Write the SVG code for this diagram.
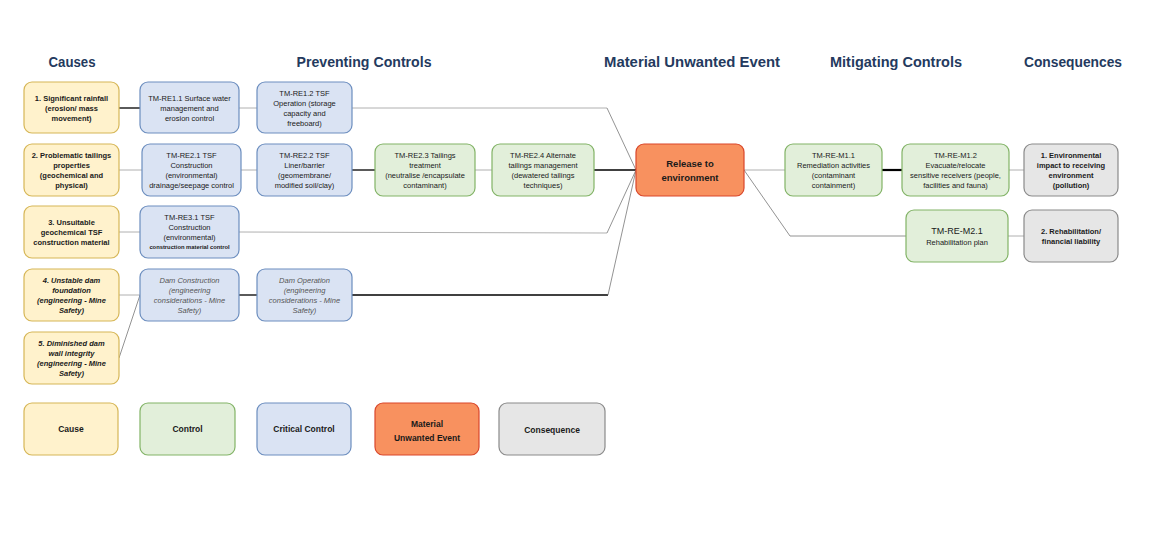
<svg xmlns="http://www.w3.org/2000/svg" width="1164" height="560" viewBox="0 0 1164 560">
<style>
.hdr{font-family:"Liberation Sans",Arial,sans-serif;font-weight:bold;font-size:14px;fill:#243a5e}
.t{font-family:"Liberation Sans",Arial,sans-serif;font-size:7.5px;fill:#1a1a1a;text-anchor:middle}
.b{font-weight:bold}
.i{font-style:italic}
.g{fill:#555}
.cause{fill:#fff2cc;stroke:#d6b656;stroke-width:1.2}
.ctrl{fill:#e2efda;stroke:#82b366;stroke-width:1.2}
.crit{fill:#dae3f3;stroke:#6c8ebf;stroke-width:1.2}
.mue{fill:#f8915f;stroke:#d9472b;stroke-width:1.2}
.cons{fill:#e6e6e6;stroke:#8a8a8a;stroke-width:1.2}
.k{stroke:#000;stroke-width:1.3;fill:none}
.gr{stroke:#b0b0b0;stroke-width:1;fill:none}
.d{stroke:#777;stroke-width:0.8;fill:none}
</style>
<rect width="1164" height="560" fill="#fff"/>
<g id="headers">
<text class="hdr" x="72" y="67" text-anchor="middle" textLength="47" lengthAdjust="spacingAndGlyphs">Causes</text>
<text class="hdr" x="364" y="67" text-anchor="middle" textLength="135" lengthAdjust="spacingAndGlyphs">Preventing Controls</text>
<text class="hdr" x="692" y="67" text-anchor="middle" textLength="176" lengthAdjust="spacingAndGlyphs">Material Unwanted Event</text>
<text class="hdr" x="896" y="67" text-anchor="middle" textLength="132" lengthAdjust="spacingAndGlyphs">Mitigating Controls</text>
<text class="hdr" x="1073" y="67" text-anchor="middle" textLength="98" lengthAdjust="spacingAndGlyphs">Consequences</text>
</g>
<g id="connectors">
<line class="k" x1="119" y1="108" x2="140" y2="108"/>
<line class="gr" x1="239" y1="108" x2="257" y2="108"/>
<polyline class="gr" points="352,108 607,108"/>
<line class="d" x1="607" y1="108" x2="636" y2="170"/>
<line class="gr" x1="119" y1="170" x2="142" y2="170"/>
<line class="gr" x1="241" y1="170" x2="257" y2="170"/>
<line class="k" x1="352" y1="170" x2="375" y2="170"/>
<line class="gr" x1="475" y1="170" x2="492" y2="170"/>
<line class="k" x1="594" y1="170" x2="636" y2="170"/>
<line class="gr" x1="119" y1="232" x2="140" y2="232"/>
<line class="gr" x1="239" y1="232" x2="607" y2="233"/>
<line class="d" x1="607" y1="233" x2="636" y2="170"/>
<line class="gr" x1="119" y1="295" x2="140" y2="295"/>
<line class="d" x1="119" y1="358" x2="140" y2="295"/>
<line class="k" x1="239" y1="295" x2="257" y2="295"/>
<line class="k" x1="352" y1="295" x2="608" y2="295"/>
<line class="d" x1="608" y1="295" x2="636" y2="170"/>
<line class="gr" x1="744" y1="170" x2="785" y2="170"/>
<line class="k" x1="882" y1="170" x2="902" y2="170" style="stroke-width:2.2"/>
<line class="gr" x1="1009" y1="170" x2="1024" y2="170"/>
<polyline class="d" points="744,170 790,236 906,236"/>
<line class="gr" x1="1008" y1="236" x2="1024" y2="236"/>
</g>
<g id="cause1"><rect class="cause" x="24" y="82" width="95" height="51" rx="8"/>
<text class="t b"><tspan x="71.5" y="100.5">1. Significant rainfall</tspan><tspan x="71.5" y="110.5">(erosion/ mass</tspan><tspan x="71.5" y="120.5">movement)</tspan></text></g>
<g id="cause2"><rect class="cause" x="24" y="144" width="95" height="52" rx="8"/>
<text class="t b"><tspan x="71.5" y="157.5">2. Problematic tailings</tspan><tspan x="71.5" y="167.5">properties</tspan><tspan x="71.5" y="177.5">(geochemical and</tspan><tspan x="71.5" y="187.5">physical)</tspan></text></g>
<g id="cause3"><rect class="cause" x="24" y="206" width="95" height="52" rx="8"/>
<text class="t b"><tspan x="71.5" y="224.5">3. Unsuitable</tspan><tspan x="71.5" y="234.5">geochemical TSF</tspan><tspan x="71.5" y="244.5">construction material</tspan></text></g>
<g id="cause4"><rect class="cause" x="24" y="269" width="95" height="52" rx="8"/>
<text class="t b i"><tspan x="71.5" y="282.5">4. Unstable dam</tspan><tspan x="71.5" y="292.5">foundation</tspan><tspan x="71.5" y="302.5">(engineering - Mine</tspan><tspan x="71.5" y="312.5">Safety)</tspan></text></g>
<g id="cause5"><rect class="cause" x="24" y="332" width="95" height="52" rx="8"/>
<text class="t b i"><tspan x="71.5" y="345.5">5. Diminished dam</tspan><tspan x="71.5" y="355.5">wall integrity</tspan><tspan x="71.5" y="365.5">(engineering - Mine</tspan><tspan x="71.5" y="375.5">Safety)</tspan></text></g>
<g id="re11"><rect class="crit" x="140" y="82" width="99" height="51" rx="8"/>
<text class="t"><tspan x="189.5" y="100.5">TM-RE1.1 Surface water</tspan><tspan x="189.5" y="110.5">management and</tspan><tspan x="189.5" y="120.5">erosion control</tspan></text></g>
<g id="re12"><rect class="crit" x="257" y="82" width="95" height="51" rx="8"/>
<text class="t"><tspan x="304.5" y="95.5">TM-RE1.2 TSF</tspan><tspan x="304.5" y="105.5">Operation (storage</tspan><tspan x="304.5" y="115.5">capacity and</tspan><tspan x="304.5" y="125.5">freeboard)</tspan></text></g>
<g id="re21"><rect class="crit" x="142" y="144" width="99" height="52" rx="8"/>
<text class="t"><tspan x="191.5" y="157.5">TM-RE2.1 TSF</tspan><tspan x="191.5" y="167.5">Construction</tspan><tspan x="191.5" y="177.5">(environmental)</tspan><tspan x="191.5" y="187.5">drainage/seepage control</tspan></text></g>
<g id="re22"><rect class="crit" x="257" y="144" width="95" height="52" rx="8"/>
<text class="t"><tspan x="304.5" y="157.5">TM-RE2.2 TSF</tspan><tspan x="304.5" y="167.5">Liner/barrier</tspan><tspan x="304.5" y="177.5">(geomembrane/</tspan><tspan x="304.5" y="187.5">modified soil/clay)</tspan></text></g>
<g id="re23"><rect class="ctrl" x="375" y="144" width="100" height="52" rx="8"/>
<text class="t"><tspan x="425" y="157.5">TM-RE2.3 Tailings</tspan><tspan x="425" y="167.5">treatment</tspan><tspan x="425" y="177.5">(neutralise /encapsulate</tspan><tspan x="425" y="187.5">contaminant)</tspan></text></g>
<g id="re24"><rect class="ctrl" x="492" y="144" width="102" height="52" rx="8"/>
<text class="t"><tspan x="543" y="157.5">TM-RE2.4 Alternate</tspan><tspan x="543" y="167.5">tailings management</tspan><tspan x="543" y="177.5">(dewatered tailings</tspan><tspan x="543" y="187.5">techniques)</tspan></text></g>
<g id="re31"><rect class="crit" x="140" y="206" width="99" height="52" rx="8"/>
<text class="t"><tspan x="189.5" y="219.5">TM-RE3.1 TSF</tspan><tspan x="189.5" y="229.5">Construction</tspan><tspan x="189.5" y="239.5">(environmental)</tspan><tspan x="189.5" y="248.5" class="b" style="font-size:5.8px">construction material control</tspan></text></g>
<g id="damcon"><rect class="crit" x="140" y="269" width="99" height="52" rx="8"/>
<text class="t i g"><tspan x="189.5" y="282.5">Dam Construction</tspan><tspan x="189.5" y="292.5">(engineering</tspan><tspan x="189.5" y="302.5">considerations - Mine</tspan><tspan x="189.5" y="312.5">Safety)</tspan></text></g>
<g id="damop"><rect class="crit" x="257" y="269" width="95" height="52" rx="8"/>
<text class="t i g"><tspan x="304.5" y="282.5">Dam Operation</tspan><tspan x="304.5" y="292.5">(engineering</tspan><tspan x="304.5" y="302.5">considerations - Mine</tspan><tspan x="304.5" y="312.5">Safety)</tspan></text></g>
<g id="mue"><rect class="mue" x="636" y="144" width="108" height="52" rx="8"/>
<text class="t b" style="font-size:9.5px"><tspan x="690" y="167">Release to</tspan><tspan x="690" y="181">environment</tspan></text></g>
<g id="m11"><rect class="ctrl" x="785" y="144" width="97" height="52" rx="8"/>
<text class="t"><tspan x="833.5" y="157.5">TM-RE-M1.1</tspan><tspan x="833.5" y="167.5">Remediation activities</tspan><tspan x="833.5" y="177.5">(contaminant</tspan><tspan x="833.5" y="187.5">containment)</tspan></text></g>
<g id="m12"><rect class="ctrl" x="902" y="144" width="107" height="52" rx="8"/>
<text class="t"><tspan x="955.5" y="157.5">TM-RE-M1.2</tspan><tspan x="955.5" y="167.5">Evacuate/relocate</tspan><tspan x="955.5" y="177.5">sensitive receivers (people,</tspan><tspan x="955.5" y="187.5">facilities and fauna)</tspan></text></g>
<g id="cons1"><rect class="cons" x="1024" y="144" width="94" height="52" rx="8"/>
<text class="t b"><tspan x="1071" y="157.5">1. Environmental</tspan><tspan x="1071" y="167.5">impact to receiving</tspan><tspan x="1071" y="177.5">environment</tspan><tspan x="1071" y="187.5">(pollution)</tspan></text></g>
<g id="m21"><rect class="ctrl" x="906" y="210" width="102" height="52" rx="8"/>
<text class="t"><tspan x="957" y="234" style="font-size:9px">TM-RE-M2.1</tspan><tspan x="957" y="244.5">Rehabilitation plan</tspan></text></g>
<g id="cons2"><rect class="cons" x="1024" y="210" width="94" height="52" rx="8"/>
<text class="t b"><tspan x="1071" y="233.5">2. Rehabilitation/</tspan><tspan x="1071" y="243.5">financial liability</tspan></text></g>
<g id="legend">
<rect class="cause" x="24" y="403" width="94" height="52" rx="8"/>
<text class="t b" x="71" y="432" style="font-size:8.5px">Cause</text>
<rect class="ctrl" x="140" y="403" width="95" height="52" rx="8"/>
<text class="t b" x="187.5" y="432" style="font-size:8.5px">Control</text>
<rect class="crit" x="257" y="403" width="94" height="52" rx="8"/>
<text class="t b" x="304" y="432" style="font-size:8.5px">Critical Control</text>
<rect class="mue" x="375" y="403" width="104" height="52" rx="8"/>
<text class="t b" style="font-size:8.5px"><tspan x="427" y="427">Material</tspan><tspan x="427" y="441">Unwanted Event</tspan></text>
<rect class="cons" x="499" y="403" width="106" height="52" rx="8"/>
<text class="t b" x="552" y="433" style="font-size:8.5px">Consequence</text>
</g>
</svg>
